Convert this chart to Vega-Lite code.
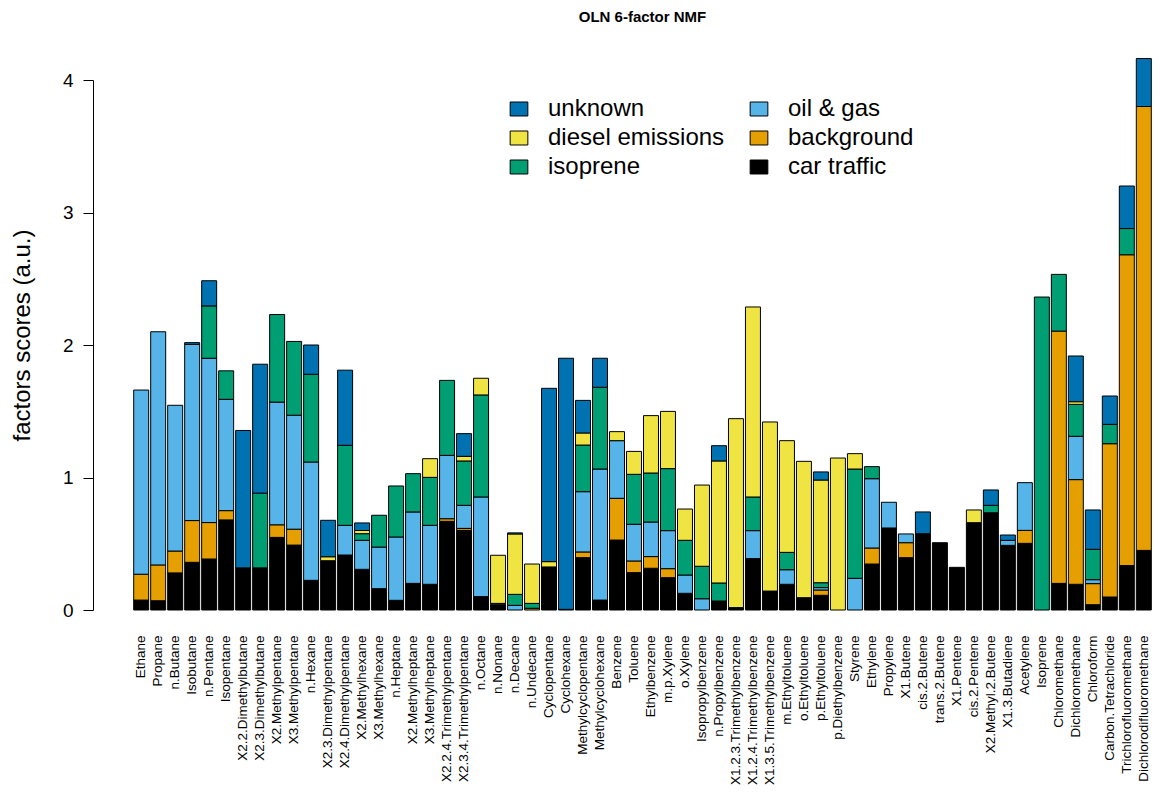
{
  "$schema": "https://vega.github.io/schema/vega-lite/v6.json",
  "autosize": "none",
  "width": 1021,
  "height": 530,
  "padding": {"left": 132, "top": 80, "right": 2, "bottom": 182},
  "background": "white",
  "title": {"text": "OLN 6-factor NMF", "fontSize": 15, "fontWeight": "bold", "font": "Liberation Sans", "color": "black", "anchor": "middle", "offset": 33},
  "config": {"view": {"stroke": null}, "font": "Liberation Sans"},
  "datasets": {
    "factors": [
      {"f": "car traffic", "k": 1},
      {"f": "background", "k": 2},
      {"f": "oil & gas", "k": 3},
      {"f": "isoprene", "k": 4},
      {"f": "diesel emissions", "k": 5},
      {"f": "unknown", "k": 6}
    ],
    "scores": [
      {"c": "Ethane", "f": "car traffic", "v": 0.075},
      {"c": "Ethane", "f": "background", "v": 0.195},
      {"c": "Ethane", "f": "oil & gas", "v": 1.39},
      {"c": "Propane", "f": "car traffic", "v": 0.07},
      {"c": "Propane", "f": "background", "v": 0.27},
      {"c": "Propane", "f": "oil & gas", "v": 1.76},
      {"c": "n.Butane", "f": "car traffic", "v": 0.28},
      {"c": "n.Butane", "f": "background", "v": 0.165},
      {"c": "n.Butane", "f": "oil & gas", "v": 1.1},
      {"c": "Isobutane", "f": "car traffic", "v": 0.36},
      {"c": "Isobutane", "f": "background", "v": 0.315},
      {"c": "Isobutane", "f": "oil & gas", "v": 1.33},
      {"c": "Isobutane", "f": "unknown", "v": 0.013},
      {"c": "n.Pentane", "f": "car traffic", "v": 0.385},
      {"c": "n.Pentane", "f": "background", "v": 0.275},
      {"c": "n.Pentane", "f": "oil & gas", "v": 1.24},
      {"c": "n.Pentane", "f": "isoprene", "v": 0.395},
      {"c": "n.Pentane", "f": "unknown", "v": 0.19},
      {"c": "Isopentane", "f": "car traffic", "v": 0.68},
      {"c": "Isopentane", "f": "background", "v": 0.07},
      {"c": "Isopentane", "f": "oil & gas", "v": 0.84},
      {"c": "Isopentane", "f": "isoprene", "v": 0.215},
      {"c": "X2.2.Dimethylbutane", "f": "car traffic", "v": 0.318},
      {"c": "X2.2.Dimethylbutane", "f": "unknown", "v": 1.037},
      {"c": "X2.3.Dimethylbutane", "f": "car traffic", "v": 0.318},
      {"c": "X2.3.Dimethylbutane", "f": "isoprene", "v": 0.564},
      {"c": "X2.3.Dimethylbutane", "f": "unknown", "v": 0.973},
      {"c": "X2.Methylpentane", "f": "car traffic", "v": 0.548},
      {"c": "X2.Methylpentane", "f": "background", "v": 0.095},
      {"c": "X2.Methylpentane", "f": "oil & gas", "v": 0.926},
      {"c": "X2.Methylpentane", "f": "isoprene", "v": 0.661},
      {"c": "X3.Methylpentane", "f": "car traffic", "v": 0.49},
      {"c": "X3.Methylpentane", "f": "background", "v": 0.12},
      {"c": "X3.Methylpentane", "f": "oil & gas", "v": 0.86},
      {"c": "X3.Methylpentane", "f": "isoprene", "v": 0.557},
      {"c": "n.Hexane", "f": "car traffic", "v": 0.224},
      {"c": "n.Hexane", "f": "oil & gas", "v": 0.893},
      {"c": "n.Hexane", "f": "isoprene", "v": 0.662},
      {"c": "n.Hexane", "f": "unknown", "v": 0.221},
      {"c": "X2.3.Dimethylpentane", "f": "car traffic", "v": 0.372},
      {"c": "X2.3.Dimethylpentane", "f": "diesel emissions", "v": 0.03},
      {"c": "X2.3.Dimethylpentane", "f": "unknown", "v": 0.275},
      {"c": "X2.4.Dimethylpentane", "f": "car traffic", "v": 0.415},
      {"c": "X2.4.Dimethylpentane", "f": "oil & gas", "v": 0.224},
      {"c": "X2.4.Dimethylpentane", "f": "isoprene", "v": 0.604},
      {"c": "X2.4.Dimethylpentane", "f": "unknown", "v": 0.567},
      {"c": "X2.Methylhexane", "f": "car traffic", "v": 0.307},
      {"c": "X2.Methylhexane", "f": "oil & gas", "v": 0.219},
      {"c": "X2.Methylhexane", "f": "isoprene", "v": 0.05},
      {"c": "X2.Methylhexane", "f": "diesel emissions", "v": 0.024},
      {"c": "X2.Methylhexane", "f": "unknown", "v": 0.057},
      {"c": "X3.Methylhexane", "f": "car traffic", "v": 0.161},
      {"c": "X3.Methylhexane", "f": "oil & gas", "v": 0.314},
      {"c": "X3.Methylhexane", "f": "isoprene", "v": 0.24},
      {"c": "n.Heptane", "f": "car traffic", "v": 0.073},
      {"c": "n.Heptane", "f": "oil & gas", "v": 0.478},
      {"c": "n.Heptane", "f": "isoprene", "v": 0.385},
      {"c": "X2.Methylheptane", "f": "car traffic", "v": 0.201},
      {"c": "X2.Methylheptane", "f": "oil & gas", "v": 0.539},
      {"c": "X2.Methylheptane", "f": "isoprene", "v": 0.289},
      {"c": "X3.Methylheptane", "f": "car traffic", "v": 0.194},
      {"c": "X3.Methylheptane", "f": "oil & gas", "v": 0.445},
      {"c": "X3.Methylheptane", "f": "isoprene", "v": 0.362},
      {"c": "X3.Methylheptane", "f": "diesel emissions", "v": 0.141},
      {"c": "X2.2.4.Trimethylpentane", "f": "car traffic", "v": 0.669},
      {"c": "X2.2.4.Trimethylpentane", "f": "background", "v": 0.02},
      {"c": "X2.2.4.Trimethylpentane", "f": "oil & gas", "v": 0.478},
      {"c": "X2.2.4.Trimethylpentane", "f": "isoprene", "v": 0.566},
      {"c": "X2.3.4.Trimethylpentane", "f": "car traffic", "v": 0.601},
      {"c": "X2.3.4.Trimethylpentane", "f": "background", "v": 0.015},
      {"c": "X2.3.4.Trimethylpentane", "f": "oil & gas", "v": 0.174},
      {"c": "X2.3.4.Trimethylpentane", "f": "isoprene", "v": 0.335},
      {"c": "X2.3.4.Trimethylpentane", "f": "diesel emissions", "v": 0.035},
      {"c": "X2.3.4.Trimethylpentane", "f": "unknown", "v": 0.171},
      {"c": "n.Octane", "f": "car traffic", "v": 0.101},
      {"c": "n.Octane", "f": "oil & gas", "v": 0.752},
      {"c": "n.Octane", "f": "isoprene", "v": 0.77},
      {"c": "n.Octane", "f": "diesel emissions", "v": 0.126},
      {"c": "n.Nonane", "f": "car traffic", "v": 0.04},
      {"c": "n.Nonane", "f": "oil & gas", "v": 0.01},
      {"c": "n.Nonane", "f": "diesel emissions", "v": 0.363},
      {"c": "n.Decane", "f": "oil & gas", "v": 0.035},
      {"c": "n.Decane", "f": "isoprene", "v": 0.083},
      {"c": "n.Decane", "f": "diesel emissions", "v": 0.456},
      {"c": "n.Decane", "f": "unknown", "v": 0.008},
      {"c": "n.Undecane", "f": "background", "v": 0.013},
      {"c": "n.Undecane", "f": "isoprene", "v": 0.037},
      {"c": "n.Undecane", "f": "diesel emissions", "v": 0.297},
      {"c": "Cyclopentane", "f": "car traffic", "v": 0.325},
      {"c": "Cyclopentane", "f": "diesel emissions", "v": 0.04},
      {"c": "Cyclopentane", "f": "unknown", "v": 1.308},
      {"c": "Cyclohexane", "f": "car traffic", "v": 0.005},
      {"c": "Cyclohexane", "f": "unknown", "v": 1.895},
      {"c": "Methylcyclopentane", "f": "car traffic", "v": 0.395},
      {"c": "Methylcyclopentane", "f": "background", "v": 0.043},
      {"c": "Methylcyclopentane", "f": "oil & gas", "v": 0.455},
      {"c": "Methylcyclopentane", "f": "isoprene", "v": 0.352},
      {"c": "Methylcyclopentane", "f": "diesel emissions", "v": 0.091},
      {"c": "Methylcyclopentane", "f": "unknown", "v": 0.246},
      {"c": "Methylcyclohexane", "f": "car traffic", "v": 0.075},
      {"c": "Methylcyclohexane", "f": "oil & gas", "v": 0.989},
      {"c": "Methylcyclohexane", "f": "isoprene", "v": 0.617},
      {"c": "Methylcyclohexane", "f": "unknown", "v": 0.219},
      {"c": "Benzene", "f": "car traffic", "v": 0.528},
      {"c": "Benzene", "f": "background", "v": 0.315},
      {"c": "Benzene", "f": "oil & gas", "v": 0.435},
      {"c": "Benzene", "f": "diesel emissions", "v": 0.068},
      {"c": "Toluene", "f": "car traffic", "v": 0.282},
      {"c": "Toluene", "f": "background", "v": 0.088},
      {"c": "Toluene", "f": "oil & gas", "v": 0.277},
      {"c": "Toluene", "f": "isoprene", "v": 0.377},
      {"c": "Toluene", "f": "diesel emissions", "v": 0.173},
      {"c": "Ethylbenzene", "f": "car traffic", "v": 0.315},
      {"c": "Ethylbenzene", "f": "background", "v": 0.088},
      {"c": "Ethylbenzene", "f": "oil & gas", "v": 0.261},
      {"c": "Ethylbenzene", "f": "isoprene", "v": 0.37},
      {"c": "Ethylbenzene", "f": "diesel emissions", "v": 0.433},
      {"c": "m.p.Xylene", "f": "car traffic", "v": 0.244},
      {"c": "m.p.Xylene", "f": "background", "v": 0.068},
      {"c": "m.p.Xylene", "f": "oil & gas", "v": 0.287},
      {"c": "m.p.Xylene", "f": "isoprene", "v": 0.468},
      {"c": "m.p.Xylene", "f": "diesel emissions", "v": 0.432},
      {"c": "o.Xylene", "f": "car traffic", "v": 0.126},
      {"c": "o.Xylene", "f": "oil & gas", "v": 0.138},
      {"c": "o.Xylene", "f": "isoprene", "v": 0.262},
      {"c": "o.Xylene", "f": "diesel emissions", "v": 0.236},
      {"c": "Isopropylbenzene", "f": "oil & gas", "v": 0.085},
      {"c": "Isopropylbenzene", "f": "isoprene", "v": 0.245},
      {"c": "Isopropylbenzene", "f": "diesel emissions", "v": 0.613},
      {"c": "n.Propylbenzene", "f": "car traffic", "v": 0.068},
      {"c": "n.Propylbenzene", "f": "isoprene", "v": 0.136},
      {"c": "n.Propylbenzene", "f": "diesel emissions", "v": 0.921},
      {"c": "n.Propylbenzene", "f": "unknown", "v": 0.115},
      {"c": "X1.2.3.Trimethylbenzene", "f": "car traffic", "v": 0.018},
      {"c": "X1.2.3.Trimethylbenzene", "f": "diesel emissions", "v": 1.426},
      {"c": "X1.2.4.Trimethylbenzene", "f": "car traffic", "v": 0.388},
      {"c": "X1.2.4.Trimethylbenzene", "f": "oil & gas", "v": 0.211},
      {"c": "X1.2.4.Trimethylbenzene", "f": "isoprene", "v": 0.254},
      {"c": "X1.2.4.Trimethylbenzene", "f": "diesel emissions", "v": 1.434},
      {"c": "X1.3.5.Trimethylbenzene", "f": "car traffic", "v": 0.143},
      {"c": "X1.3.5.Trimethylbenzene", "f": "diesel emissions", "v": 1.276},
      {"c": "m.Ethyltoluene", "f": "car traffic", "v": 0.194},
      {"c": "m.Ethyltoluene", "f": "oil & gas", "v": 0.11},
      {"c": "m.Ethyltoluene", "f": "isoprene", "v": 0.131},
      {"c": "m.Ethyltoluene", "f": "diesel emissions", "v": 0.843},
      {"c": "o.Ethyltoluene", "f": "car traffic", "v": 0.093},
      {"c": "o.Ethyltoluene", "f": "diesel emissions", "v": 1.029},
      {"c": "p.Ethyltoluene", "f": "car traffic", "v": 0.111},
      {"c": "p.Ethyltoluene", "f": "background", "v": 0.04},
      {"c": "p.Ethyltoluene", "f": "oil & gas", "v": 0.018},
      {"c": "p.Ethyltoluene", "f": "isoprene", "v": 0.037},
      {"c": "p.Ethyltoluene", "f": "diesel emissions", "v": 0.775},
      {"c": "p.Ethyltoluene", "f": "unknown", "v": 0.061},
      {"c": "p.Diethylbenzene", "f": "diesel emissions", "v": 1.147},
      {"c": "Styrene", "f": "oil & gas", "v": 0.239},
      {"c": "Styrene", "f": "isoprene", "v": 0.825},
      {"c": "Styrene", "f": "diesel emissions", "v": 0.116},
      {"c": "Ethylene", "f": "car traffic", "v": 0.347},
      {"c": "Ethylene", "f": "background", "v": 0.121},
      {"c": "Ethylene", "f": "oil & gas", "v": 0.523},
      {"c": "Ethylene", "f": "isoprene", "v": 0.091},
      {"c": "Propylene", "f": "car traffic", "v": 0.619},
      {"c": "Propylene", "f": "oil & gas", "v": 0.194},
      {"c": "X1.Butene", "f": "car traffic", "v": 0.395},
      {"c": "X1.Butene", "f": "background", "v": 0.113},
      {"c": "X1.Butene", "f": "oil & gas", "v": 0.066},
      {"c": "cis.2.Butene", "f": "car traffic", "v": 0.576},
      {"c": "cis.2.Butene", "f": "unknown", "v": 0.164},
      {"c": "trans.2.Butene", "f": "car traffic", "v": 0.508},
      {"c": "X1.Pentene", "f": "car traffic", "v": 0.322},
      {"c": "cis.2.Pentene", "f": "car traffic", "v": 0.659},
      {"c": "cis.2.Pentene", "f": "diesel emissions", "v": 0.096},
      {"c": "X2.Methyl.2.Butene", "f": "car traffic", "v": 0.734},
      {"c": "X2.Methyl.2.Butene", "f": "isoprene", "v": 0.056},
      {"c": "X2.Methyl.2.Butene", "f": "unknown", "v": 0.116},
      {"c": "X1.3.Butadiene", "f": "car traffic", "v": 0.488},
      {"c": "X1.3.Butadiene", "f": "oil & gas", "v": 0.038},
      {"c": "X1.3.Butadiene", "f": "unknown", "v": 0.04},
      {"c": "Acetylene", "f": "car traffic", "v": 0.503},
      {"c": "Acetylene", "f": "background", "v": 0.098},
      {"c": "Acetylene", "f": "oil & gas", "v": 0.36},
      {"c": "Isoprene", "f": "isoprene", "v": 2.362},
      {"c": "Chloromethane", "f": "car traffic", "v": 0.201},
      {"c": "Chloromethane", "f": "background", "v": 1.904},
      {"c": "Chloromethane", "f": "isoprene", "v": 0.428},
      {"c": "Dichloromethane", "f": "car traffic", "v": 0.194},
      {"c": "Dichloromethane", "f": "background", "v": 0.79},
      {"c": "Dichloromethane", "f": "oil & gas", "v": 0.327},
      {"c": "Dichloromethane", "f": "isoprene", "v": 0.241},
      {"c": "Dichloromethane", "f": "diesel emissions", "v": 0.02},
      {"c": "Dichloromethane", "f": "unknown", "v": 0.345},
      {"c": "Chloroform", "f": "car traffic", "v": 0.04},
      {"c": "Chloroform", "f": "background", "v": 0.159},
      {"c": "Chloroform", "f": "oil & gas", "v": 0.03},
      {"c": "Chloroform", "f": "isoprene", "v": 0.229},
      {"c": "Chloroform", "f": "unknown", "v": 0.297},
      {"c": "Carbon.Tetrachloride", "f": "car traffic", "v": 0.098},
      {"c": "Carbon.Tetrachloride", "f": "background", "v": 1.157},
      {"c": "Carbon.Tetrachloride", "f": "isoprene", "v": 0.146},
      {"c": "Carbon.Tetrachloride", "f": "unknown", "v": 0.214},
      {"c": "Trichlorofluoromethane", "f": "car traffic", "v": 0.335},
      {"c": "Trichlorofluoromethane", "f": "background", "v": 2.346},
      {"c": "Trichlorofluoromethane", "f": "isoprene", "v": 0.198},
      {"c": "Trichlorofluoromethane", "f": "unknown", "v": 0.321},
      {"c": "Dichlorodifluoromethane", "f": "car traffic", "v": 0.45},
      {"c": "Dichlorodifluoromethane", "f": "background", "v": 3.35},
      {"c": "Dichlorodifluoromethane", "f": "unknown", "v": 0.362}
    ]
  },
  "data": {"name": "scores"},
  "transform": [
    {"lookup": "f", "from": {"data": {"name": "factors"}, "key": "f", "fields": ["k"]}}
  ],
  "mark": {"type": "bar", "stroke": "black", "strokeWidth": 1, "clip": false},
  "encoding": {
    "x": {
      "field": "c", "type": "nominal", "sort": null,
      "scale": {"paddingInner": 0.118, "paddingOuter": 0.1},
      "axis": {"title": null, "labelAngle": -90, "labelFontSize": 13.5, "labelColor": "black", "labelFont": "Liberation Sans", "ticks": false, "tickSize": 0, "domain": false, "labelPadding": 25, "labelLimit": 300}
    },
    "y": {
      "field": "v", "type": "quantitative", "stack": "zero",
      "scale": {"domain": [0, 4], "nice": false},
      "axis": {"title": "factors scores (a.u.)", "titleFontSize": 24, "titleFontWeight": "normal", "titleColor": "black", "titleFont": "Liberation Sans", "titlePadding": 28, "titleY": 255, "values": [0, 1, 2, 3, 4], "labelFontSize": 19, "labelColor": "black", "labelFont": "Liberation Sans", "tickSize": 10, "tickColor": "black", "domainColor": "black", "labelPadding": 10, "grid": false, "offset": 39, "labelAngle": 0}
    },
    "color": {
      "field": "f", "type": "nominal",
      "scale": {
        "domain": ["unknown", "diesel emissions", "isoprene", "oil & gas", "background", "car traffic"],
        "range": ["#0072B2", "#F0E442", "#009E73", "#56B4E9", "#E69F00", "#000000"]
      },
      "legend": {
        "title": null, "orient": "none", "legendX": 375, "legendY": 17, "columns": 2, "columnPadding": 22, "rowPadding": 5,
        "labelFontSize": 24, "labelFont": "Liberation Sans", "labelColor": "black", "labelOffset": 17, "labelLimit": 400,
        "symbolType": "M-1,-0.79H1V0.79H-1Z", "symbolSize": 313, "symbolStrokeColor": "black", "symbolStrokeWidth": 1, "symbolOpacity": 1, "padding": 0
      }
    },
    "order": {"field": "k", "type": "quantitative"}
  }
}
